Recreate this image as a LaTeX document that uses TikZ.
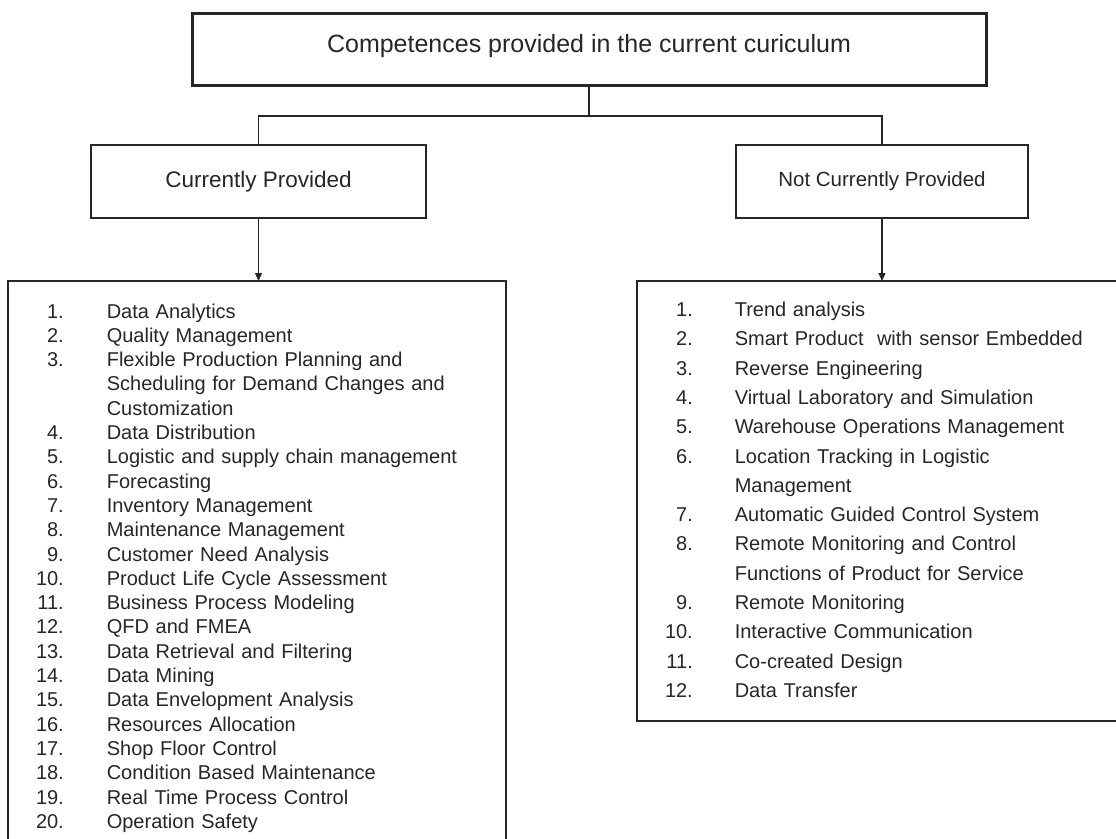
\documentclass[tikz,border=0pt]{standalone}
\usepackage{fontspec}
\setmainfont{Liberation Sans}
\usetikzlibrary{arrows.meta,positioning,calc}
\definecolor{inkgray}{RGB}{38,38,38}

\begin{document}
\begin{tikzpicture}[x=1pt, y=1pt,
  box/.style={draw=inkgray, line width=1.6pt, outer sep=0pt, align=center, text=inkgray},
  listbox/.style={draw=inkgray, line width=1.6pt, outer sep=0pt, anchor=north west,
                  align=left, inner xsep=28pt, text=inkgray},
  link/.style={draw=inkgray, line width=1.2pt},
  >={Triangle[length=8pt, width=7pt]}]
  \useasboundingbox (0,0) rectangle (1116,-838);
  \clip (0,0) rectangle (1116,-838);
  \node[box, line width=3pt, minimum width=794pt, minimum height=72pt,
        text height=18pt, text depth=12pt,
        font=\fontsize{25}{30}\selectfont] (top) at (589,-49)
       {Competences provided in the current curiculum};
  \node[box, minimum width=335pt, minimum height=73pt, font=\fontsize{22.5}{27}\selectfont,
        below=60pt of top, xshift=-330.5pt] (cur) {Currently Provided};
  \node[box, minimum width=292pt, minimum height=73pt, font=\fontsize{20.5}{25}\selectfont,
        below=60pt of top, xshift=293pt] (ncur) {Not Currently Provided};
  \node[listbox, inner ysep=20pt, text width=442pt, font=\fontsize{20}{24.3}\selectfont]
       (curlist) at (8,-281)
       {\begin{tabular}{@{}r@{\hspace{43pt}}l@{}}
        1. & Data Analytics\\
        2. & Quality Management\\
        3. & Flexible Production Planning and\\
           & Scheduling for Demand Changes and\\
           & Customization\\
        4. & Data Distribution\\
        5. & Logistic and supply chain management\\
        6. & Forecasting\\
        7. & Inventory Management\\
        8. & Maintenance Management\\
        9. & Customer Need Analysis\\
        10. & Product Life Cycle Assessment\\
        11. & Business Process Modeling\\
        12. & QFD and FMEA\\
        13. & Data Retrieval and Filtering\\
        14. & Data Mining\\
        15. & Data Envelopment Analysis\\
        16. & Resources Allocation\\
        17. & Shop Floor Control\\
        18. & Condition Based Maintenance\\
        19. & Real Time Process Control\\
        20. & Operation Safety
        \end{tabular}};
  \node[listbox, inner ysep=15pt, text width=447pt, font=\fontsize{20}{29.3}\selectfont]
       (ncurlist) at (637,-281)
       {\begin{tabular}{@{}r@{\hspace{42pt}}l@{}}
        1. & Trend analysis\\
        2. & Smart Product~ with sensor Embedded\\
        3. & Reverse Engineering\\
        4. & Virtual Laboratory and Simulation\\
        5. & Warehouse Operations Management\\
        6. & Location Tracking in Logistic\\
           & Management\\
        7. & Automatic Guided Control System\\
        8. & Remote Monitoring and Control\\
           & Functions of Product for Service\\
        9. & Remote Monitoring\\
        10. & Interactive Communication\\
        11. & Co-created Design\\
        12. & Data Transfer
        \end{tabular}};
  \coordinate (fork) at ($(top.south)+(0,-31)$);
  \draw[link] (top) -- (fork);
  \draw[link] (cur) |- (fork) -| (ncur);
  \draw[link, ->] (cur) -- (cur |- curlist.north);
  \draw[link, ->] (ncur) -- (ncur |- ncurlist.north);
\end{tikzpicture}
\end{document}
